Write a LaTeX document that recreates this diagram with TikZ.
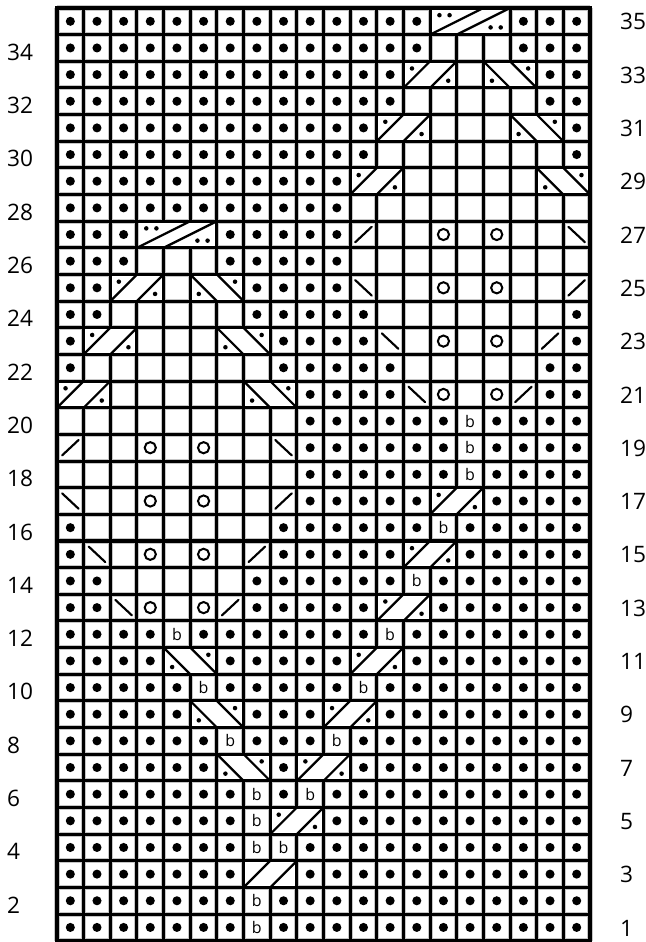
\documentclass[tikz,border=0pt]{standalone}
\usepackage{fontspec}
\setmainfont{Open Sans}
\tikzset{
    grid_halo/.style={draw=gray!45, line width=3.8pt},
    grid_line/.style={draw=black, line width=2.3pt},
    frame_line/.style={draw=black, line width=2.7pt},
    cable_line/.style={draw=black, line width=1.7pt},
    dec_line/.style={draw=black, line width=1.6pt, line cap=round},
    yo_ring/.style={draw=black, line width=1.5pt},
    row_num/.style={font=\fontsize{17}{20}\selectfont, inner sep=0pt, anchor=west},
    tbl_text/.style={font=\fontsize{12}{14}\selectfont, inner sep=0pt},
    % one pic per chart symbol, placed at the cell centre
    symp/.pic={\fill (0,0) circle (0.17);},
    symk/.pic={},
    symc/.pic={},
    symo/.pic={\draw[yo_ring] (0,0) circle (0.21);},
    symb/.pic={\node[tbl_text] (tbl) at (0,0) {b};},
    syml/.pic={\draw[dec_line] (-0.31,-0.29) -- (0.31,0.29);},
    symr/.pic={\draw[dec_line] (-0.31,0.29) -- (0.31,-0.29);},
    % cables, placed at the lower left corner of the block
    cab_up/.pic={
        \fill[white] (0.06,0.06) rectangle (1.94,0.94);
        \draw[cable_line] (0,0) -- (1,1) (1,0) -- (2,1);
        \fill (0.32,0.73) circle (0.085) (1.68,0.27) circle (0.085);
    },
    cab_dn/.pic={
        \fill[white] (0.06,0.06) rectangle (1.94,0.94);
        \draw[cable_line] (0,1) -- (1,0) (1,1) -- (2,0);
        \fill (0.32,0.27) circle (0.085) (1.68,0.73) circle (0.085);
    },
    cab_plain/.pic={
        \fill[white] (0.06,0.06) rectangle (1.94,0.94);
        \draw[cable_line] (0,0) -- (1,1) (1,0) -- (2,1);
    },
    cab_three/.pic={
        \fill[white] (0.06,0.06) rectangle (2.94,0.94);
        \draw[cable_line] (0,0) -- (2,1) (1,0) -- (3,1);
        \fill (0.35,0.73) circle (0.085) (0.73,0.73) circle (0.085)
              (2.27,0.27) circle (0.085) (2.65,0.27) circle (0.085);
    }
}

\begin{document}
\begin{tikzpicture}[x=20pt, y=20pt]
    \useasboundingbox[fill=white] (-2.139,-0.047) rectangle (22.064,35.300);

    \draw[grid_halo, step=20pt] (0,0) grid (20,35);
    \draw[grid_line, step=20pt] (0,0) grid (20,35);

    % rows 35 down to 1
    \foreach \cells [count=\i] in {
        {p,p,p,p,p,p,p,p,p,p,p,p,p,p,c,c,c,p,p,p},
        {p,p,p,p,p,p,p,p,p,p,p,p,p,p,k,k,k,p,p,p},
        {p,p,p,p,p,p,p,p,p,p,p,p,p,c,c,k,c,c,p,p},
        {p,p,p,p,p,p,p,p,p,p,p,p,p,k,k,k,k,k,p,p},
        {p,p,p,p,p,p,p,p,p,p,p,p,c,c,k,k,k,c,c,p},
        {p,p,p,p,p,p,p,p,p,p,p,p,k,k,k,k,k,k,k,p},
        {p,p,p,p,p,p,p,p,p,p,p,c,c,k,k,k,k,k,c,c},
        {p,p,p,p,p,p,p,p,p,p,p,k,k,k,k,k,k,k,k,k},
        {p,p,p,c,c,c,p,p,p,p,p,l,k,k,o,k,o,k,k,r},
        {p,p,p,k,k,k,p,p,p,p,p,k,k,k,k,k,k,k,k,k},
        {p,p,c,c,k,c,c,p,p,p,p,r,k,k,o,k,o,k,k,l},
        {p,p,k,k,k,k,k,p,p,p,p,p,k,k,k,k,k,k,k,p},
        {p,c,c,k,k,k,c,c,p,p,p,p,r,k,o,k,o,k,l,p},
        {p,k,k,k,k,k,k,k,p,p,p,p,p,k,k,k,k,k,p,p},
        {c,c,k,k,k,k,k,c,c,p,p,p,p,r,o,k,o,l,p,p},
        {k,k,k,k,k,k,k,k,k,p,p,p,p,p,p,b,p,p,p,p},
        {l,k,k,o,k,o,k,k,r,p,p,p,p,p,p,b,p,p,p,p},
        {k,k,k,k,k,k,k,k,k,p,p,p,p,p,p,b,p,p,p,p},
        {r,k,k,o,k,o,k,k,l,p,p,p,p,p,c,c,p,p,p,p},
        {p,k,k,k,k,k,k,k,p,p,p,p,p,p,b,p,p,p,p,p},
        {p,r,k,o,k,o,k,l,p,p,p,p,p,c,c,p,p,p,p,p},
        {p,p,k,k,k,k,k,p,p,p,p,p,p,b,p,p,p,p,p,p},
        {p,p,r,o,k,o,l,p,p,p,p,p,c,c,p,p,p,p,p,p},
        {p,p,p,p,b,p,p,p,p,p,p,p,b,p,p,p,p,p,p,p},
        {p,p,p,p,c,c,p,p,p,p,p,c,c,p,p,p,p,p,p,p},
        {p,p,p,p,p,b,p,p,p,p,p,b,p,p,p,p,p,p,p,p},
        {p,p,p,p,p,c,c,p,p,p,c,c,p,p,p,p,p,p,p,p},
        {p,p,p,p,p,p,b,p,p,p,b,p,p,p,p,p,p,p,p,p},
        {p,p,p,p,p,p,c,c,p,c,c,p,p,p,p,p,p,p,p,p},
        {p,p,p,p,p,p,p,b,p,b,p,p,p,p,p,p,p,p,p,p},
        {p,p,p,p,p,p,p,b,c,c,p,p,p,p,p,p,p,p,p,p},
        {p,p,p,p,p,p,p,b,b,p,p,p,p,p,p,p,p,p,p,p},
        {p,p,p,p,p,p,p,c,c,p,p,p,p,p,p,p,p,p,p,p},
        {p,p,p,p,p,p,p,b,p,p,p,p,p,p,p,p,p,p,p,p},
        {p,p,p,p,p,p,p,b,p,p,p,p,p,p,p,p,p,p,p,p}}{
        \foreach \s [count=\c] in \cells
            \pic (cell\c-\i) at (\c-0.5, 35.5-\i) {sym\s};
    }

    \foreach \c/\r in {15/35, 4/27}
        \pic (three\c-\r) at (\c-1, \r-1) {cab_three};
    \foreach \c/\r in {14/33, 13/31, 12/29, 3/25, 2/23, 1/21, 15/17, 14/15,
                       13/13, 12/11, 11/9, 10/7, 9/5}
        \pic (up\c-\r) at (\c-1, \r-1) {cab_up};
    \foreach \c/\r in {17/33, 18/31, 19/29, 6/25, 7/23, 8/21, 5/11, 6/9, 7/7}
        \pic (dn\c-\r) at (\c-1, \r-1) {cab_dn};
    \pic (plain8-3) at (7, 2) {cab_plain};

    \draw[frame_line] (0,0) rectangle (20,35);

    % row numbers
    \foreach \n in {2,4,...,34}
        \node[row_num] (left\n) at (-1.88, \n-0.66) {\n};
    \foreach \n in {1,3,...,35}
        \node[row_num] (right\n) at (21.12, \n-0.52) {\n};
\end{tikzpicture}
\end{document}
